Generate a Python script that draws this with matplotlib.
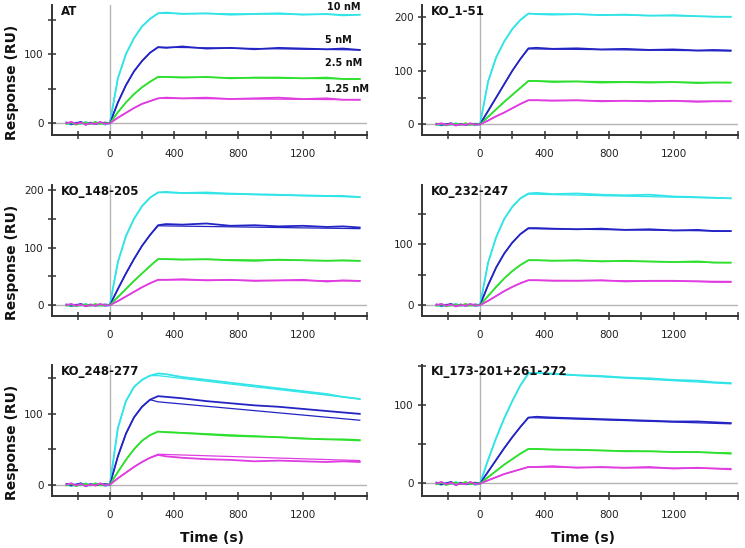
import matplotlib as mpl
mpl.use('Agg')
import matplotlib.pyplot as plt
from matplotlib.ticker import MultipleLocator, FuncFormatter

plt.rc('font', family='DejaVu Sans')

# ---------------------------------------------------------------
# Values (RU)
conc_labels = ['10 nM', '5 nM', '2.5 nM', '1.25 nM']
colors      = ['#30e4e8', '#2424c4', '#2ee02e', '#e03ce0']

t_base  = [-270, -240, -210, -180, -150, -120, -90, -60, -30, 0]
t_assoc = [50, 100, 150, 200, 250, 300]
t_diss  = [350, 450, 600, 750, 900, 1050, 1200, 1350, 1450, 1555]
t_fit   = [300, 1555]

base_vals = [[0, -2, 1, -1, 2, -1, 0, 1, -2, 0],
             [1, -1, 0, 2, -2, 1, -1, 0, 1, 0],
             [-1, 1, -2, 0, 1, -1, 2, -1, 0, 0],
             [0, 2, -1, 1, -2, 0, -1, 2, -1, 0]]

panel_names = ['AT', 'KO_1-51', 'KO_148-205', 'KO_232-247', 'KO_248-277', 'KI_173-201+261-272']
panel_ylims = [(-17, 171), (-20, 223), (-19, 209), (-18, 198), (-16, 169), (-16, 151)]

at_assoc = [[65, 100, 123, 140, 151, 159], [30, 55, 75, 90, 102, 110],
            [16, 30, 42, 52, 60, 67], [8, 15, 22, 28, 32, 36]]
at_diss  = [[160, 158, 159, 157, 158, 159, 157, 158, 156, 157],
            [109, 111, 108, 109, 107, 109, 108, 107, 108, 106],
            [67, 66, 67, 65, 66, 66, 65, 66, 64, 64],
            [37, 36, 37, 35, 36, 37, 35, 36, 34, 34]]
at_fit   = [[159, 157], [110, 106], [67, 64], [36, 34]]

ko1_assoc = [[80, 125, 155, 178, 195, 207], [25, 50, 75, 100, 122, 142],
             [14, 28, 42, 55, 68, 81], [7, 15, 22, 30, 38, 45]]
ko1_diss  = [[206, 205, 206, 204, 205, 203, 204, 202, 201, 201],
             [143, 141, 142, 140, 141, 139, 140, 138, 139, 138],
             [81, 79, 80, 78, 79, 78, 79, 77, 78, 78],
             [45, 44, 45, 43, 44, 43, 44, 42, 43, 43]]
ko1_fit   = [[207, 201], [141, 137], [81, 78], [45, 43]]

ko148_assoc = [[75, 120, 150, 172, 187, 196], [28, 55, 80, 103, 122, 139],
               [14, 28, 42, 55, 68, 80], [7, 15, 23, 31, 38, 44]]
ko148_diss  = [[197, 195, 196, 194, 193, 192, 191, 190, 190, 188],
               [141, 140, 142, 138, 139, 137, 138, 136, 137, 135],
               [80, 79, 80, 78, 77, 79, 78, 77, 78, 77],
               [44, 45, 43, 44, 42, 43, 44, 41, 43, 42]]
ko148_fit   = [[196, 188], [138, 133], [80, 77], [44, 42]]

ko232_assoc = [[70, 112, 142, 162, 176, 184], [33, 62, 85, 103, 117, 127],
               [15, 30, 44, 56, 66, 74], [7, 15, 23, 30, 36, 41]]
ko232_diss  = [[185, 183, 184, 182, 181, 182, 179, 178, 177, 176],
               [127, 126, 125, 126, 124, 125, 123, 124, 122, 122],
               [74, 73, 74, 72, 73, 72, 71, 72, 70, 70],
               [41, 40, 40, 41, 39, 40, 40, 39, 38, 38]]
ko232_fit   = [[183, 176], [126, 122], [74, 70], [41, 39]]

ko248_assoc = [[80, 118, 138, 148, 154, 157], [40, 72, 95, 110, 120, 125],
               [18, 35, 50, 62, 70, 75], [9, 17, 25, 32, 38, 42]]
ko248_diss  = [[156, 152, 148, 144, 140, 136, 132, 128, 124, 121],
               [124, 122, 118, 115, 112, 110, 107, 104, 102, 100],
               [74, 73, 71, 69, 68, 67, 65, 64, 64, 63],
               [40, 38, 36, 35, 33, 34, 33, 32, 33, 32]]
ko248_fit   = [[154, 121], [117, 91], [75, 62], [43, 34]]

ki_assoc = [[30, 58, 83, 105, 125, 140], [15, 30, 45, 59, 72, 84],
            [8, 16, 24, 31, 38, 44], [4, 8, 12, 15, 18, 21]]
ki_diss  = [[141, 140, 138, 137, 135, 134, 132, 131, 129, 128],
            [85, 84, 83, 82, 81, 80, 79, 79, 78, 77],
            [44, 43, 43, 42, 41, 41, 40, 40, 39, 38],
            [21, 22, 20, 21, 20, 21, 19, 20, 19, 18]]
ki_fit   = [[141, 127], [84, 76], [44, 39], [21, 19]]

panel_assoc = [at_assoc, ko1_assoc, ko148_assoc, ko232_assoc, ko248_assoc, ki_assoc]
panel_diss  = [at_diss, ko1_diss, ko148_diss, ko232_diss, ko248_diss, ki_diss]
panel_fit   = [at_fit, ko1_fit, ko148_fit, ko232_fit, ko248_fit, ki_fit]

# ---------------------------------------------------------------
W, H = 745, 548
fig = plt.figure(figsize=(W / 100, H / 100), dpi=100)

col_px = [(52, 367), (422, 738)]
row_px = [(5, 135), (185, 316), (365, 496)]

for i in range(6):
    r, c = divmod(i, 2)
    x0, x1 = col_px[c]
    y0, y1 = row_px[r]
    ax = fig.add_axes([x0 / W, 1 - y1 / H, (x1 - x0) / W, (y1 - y0) / H])

    ax.axhline(0, color='#b4b4b4', lw=1, zorder=1)
    ax.axvline(0, color='#b4b4b4', lw=1, zorder=1)

    for k in range(4):
        t_all = t_base + t_assoc + t_diss
        y_all = base_vals[k] + panel_assoc[i][k] + panel_diss[i][k]
        ax.plot(t_all, y_all, color=colors[k], lw=1.3, zorder=3)
        # fitted curve
        fit_t = [0] + t_assoc[:-1] + t_fit
        fit_y = [0] + panel_assoc[i][k][:-1] + panel_fit[i][k]
        ax.plot(fit_t, fit_y, color=colors[k], lw=0.9, zorder=4)

    ax.set_xlim(-360, 1600)
    ax.set_ylim(*panel_ylims[i])

    for s in ['top', 'right']:
        ax.spines[s].set_visible(False)
    for s in ['left', 'bottom']:
        ax.spines[s].set_color('#333333')
        ax.spines[s].set_linewidth(1.4)

    ax.xaxis.set_major_locator(MultipleLocator(200))
    ax.yaxis.set_major_locator(MultipleLocator(50))
    ax.xaxis.set_major_formatter(FuncFormatter(
        lambda v, p: '%d' % v if (v % 400 == 0 and 0 <= v <= 1200) else ''))
    ax.yaxis.set_major_formatter(FuncFormatter(
        lambda v, p: '%d' % v if (v % 100 == 0 and v >= 0) else ''))
    ax.tick_params(axis='both', direction='inout', length=6, width=1.1,
                   color='#333333', labelsize=7.5, labelcolor='#222222')
    ax.tick_params(axis='x', pad=7)
    ax.tick_params(axis='y', pad=3)

    ax.text(0.027, 1.0, panel_names[i], transform=ax.transAxes, ha='left', va='top',
            fontsize=8.5, fontweight='bold', color='#111111', zorder=6)

    if i == 0:
        lab_pos = [(0.978, 0.985), (0.952, 0.73), (0.984, 0.554), (1.006, 0.354)]
        for lab, (lx, ly) in zip(conc_labels, lab_pos):
            ax.text(lx, ly, lab, transform=ax.transAxes, ha='right', va='center',
                    fontsize=7, fontweight='bold', color='#111111', zorder=6)

    if c == 0:
        fig.text(12 / W, 1 - ((y0 + y1) / 2 + 12) / H, 'Response (RU)', rotation=90,
                 ha='center', va='center', fontsize=10, fontweight='bold', color='#111111')
    if r == 2:
        fig.text(((x0 + x1) / 2 + 3) / W, 1 - 538 / H, 'Time (s)', ha='center', va='center',
                 fontsize=10, fontweight='bold', color='#111111')

plt.savefig('out.png', dpi=100)
plt.close(fig)
